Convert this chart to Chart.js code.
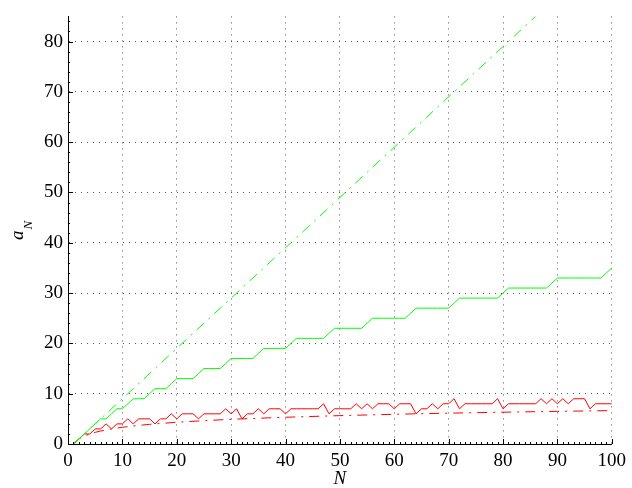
<!DOCTYPE html>
<html>
<head>
<meta charset="utf-8">
<script src="https://cdn.jsdelivr.net/npm/chart.js@4/dist/chart.umd.min.js"></script>
<style>
  html, body { margin: 0; padding: 0; background: #fff; }
  canvas { display: block; }
</style>
</head>
<body>
<canvas id="chart" width="632" height="488"></canvas>
<script>
// Sequence index N
const nValues = [
  1, 2, 3, 4, 5, 6, 7, 8, 9, 10,
  11, 12, 13, 14, 15, 16, 17, 18, 19, 20,
  21, 22, 23, 24, 25, 26, 27, 28, 29, 30,
  31, 32, 33, 34, 35, 36, 37, 38, 39, 40,
  41, 42, 43, 44, 45, 46, 47, 48, 49, 50,
  51, 52, 53, 54, 55, 56, 57, 58, 59, 60,
  61, 62, 63, 64, 65, 66, 67, 68, 69, 70,
  71, 72, 73, 74, 75, 76, 77, 78, 79, 80,
  81, 82, 83, 84, 85, 86, 87, 88, 89, 90,
  91, 92, 93, 94, 95, 96, 97, 98, 99, 100
];

// Upper staircase (green, solid)
const greenSteps = [
  0, 1, 2, 3, 4, 5, 5, 6, 7, 7,
  8, 9, 9, 9, 10, 11, 11, 11, 12, 13,
  13, 13, 13, 14, 15, 15, 15, 15, 16, 17,
  17, 17, 17, 17, 18, 19, 19, 19, 19, 19,
  20, 21, 21, 21, 21, 21, 21, 22, 23, 23,
  23, 23, 23, 23, 24, 25, 25, 25, 25, 25,
  25, 25, 26, 27, 27, 27, 27, 27, 27, 27,
  28, 29, 29, 29, 29, 29, 29, 29, 29, 30,
  31, 31, 31, 31, 31, 31, 31, 31, 32, 33,
  33, 33, 33, 33, 33, 33, 33, 33, 34, 35
];

// Lower jagged sequence (red, solid)
const redSteps = [
  0, 1, 2, 2, 3, 3, 4, 3, 4, 4,
  5, 4, 5, 5, 5, 4, 5, 5, 6, 5,
  6, 6, 6, 5, 6, 6, 6, 6, 7, 6,
  7, 5, 6, 6, 7, 6, 7, 7, 7, 6,
  7, 7, 7, 7, 7, 7, 8, 6, 7, 7,
  7, 7, 8, 7, 8, 7, 8, 8, 8, 7,
  8, 8, 8, 6, 7, 7, 8, 7, 8, 8,
  9, 7, 8, 8, 8, 8, 8, 8, 9, 7,
  8, 8, 8, 8, 8, 8, 9, 8, 9, 8,
  9, 8, 9, 9, 9, 7, 8, 8, 8, 8
];

// Reference curves (dash-dot)
const greenRefN = [1, 21, 41, 61, 81, 86];
const greenRefA = [0, 20, 40, 60, 80, 85];
const redRefN = [1, 2, 3, 4, 5, 6, 8, 10, 12, 15, 20, 25, 30, 40, 50, 60, 70, 80, 90, 100];
const redRefA = [0, 1, 1.58, 2, 2.32, 2.58, 3, 3.32, 3.58, 3.91, 4.32, 4.64, 4.91, 5.32, 5.64, 5.91, 6.13, 6.32, 6.49, 6.64];

// Axis tick labels
const xTicks = [0, 10, 20, 30, 40, 50, 60, 70, 80, 90, 100];
const yTicks = [0, 10, 20, 30, 40, 50, 60, 70, 80];

const GREEN = '#00ff00';
const RED = '#ff0000';
const SERIF = '"Liberation Serif", "Times New Roman", serif';
const DASH_DOT = [10, 6, 2, 6];

const pairs = (xs, ys) => xs.map((x, i) => ({ x: x, y: ys[i] }));

// Inward major/minor tick marks plus the axis titles (a_N uses a subscript)
const axisDecor = {
  id: 'axisDecor',
  afterDraw(chart) {
    const { ctx, chartArea: area, scales: { x, y } } = chart;
    ctx.save();
    ctx.strokeStyle = '#000';
    ctx.lineWidth = 1;
    ctx.beginPath();
    for (let v = x.min; v <= x.max; v += 1) {
      const px = Math.round(x.getPixelForValue(v)) + 0.5;
      const len = (v % 10 === 0) ? 5 : 2;
      ctx.moveTo(px, area.bottom);
      ctx.lineTo(px, area.bottom - len);
    }
    for (let v = y.min; v <= y.max; v += 2) {
      const py = Math.round(y.getPixelForValue(v)) + 0.5;
      const len = (v % 10 === 0) ? 5 : 2;
      ctx.moveTo(area.left, py);
      ctx.lineTo(area.left + len, py);
    }
    ctx.stroke();

    ctx.fillStyle = '#000';
    ctx.textBaseline = 'alphabetic';
    // x title
    ctx.font = 'italic 19px ' + SERIF;
    ctx.textAlign = 'center';
    ctx.fillText('N', (area.left + area.right) / 2, 484);
    // y title, rotated
    ctx.translate(23, 240);
    ctx.rotate(-Math.PI / 2);
    ctx.textAlign = 'left';
    ctx.font = 'italic 19px ' + SERIF;
    ctx.fillText('a', 0, 0);
    const w = ctx.measureText('a').width;
    ctx.font = 'italic 13px ' + SERIF;
    ctx.fillText('N', w + 1, 9);
    ctx.restore();
  }
};

new Chart(document.getElementById('chart'), {
  type: 'line',
  data: {
    datasets: [
      {
        data: pairs(greenRefN, greenRefA),
        borderColor: GREEN, borderWidth: 1, borderDash: DASH_DOT,
        pointRadius: 0, tension: 0
      },
      {
        data: pairs(nValues, greenSteps),
        borderColor: GREEN, borderWidth: 1,
        pointRadius: 0, tension: 0
      },
      {
        data: pairs(nValues, redSteps),
        borderColor: RED, borderWidth: 1,
        pointRadius: 0, tension: 0
      },
      {
        data: pairs(redRefN, redRefA),
        borderColor: RED, borderWidth: 1, borderDash: DASH_DOT,
        pointRadius: 0, tension: 0
      }
    ]
  },
  options: {
    responsive: false,
    animation: false,
    devicePixelRatio: 1,
    layout: { padding: { left: 0, right: 15, top: 12, bottom: 0 } },
    plugins: { legend: { display: false }, tooltip: { enabled: false } },
    scales: {
      x: {
        type: 'linear', min: 0, max: 100,
        afterBuildTicks: (s) => { s.ticks = xTicks.map(v => ({ value: v })); },
        afterFit: (s) => { s.height = 44; },
        ticks: {
          color: '#000', padding: 6, maxRotation: 0, autoSkip: false,
          font: { family: SERIF, size: 19 }
        },
        grid: { color: '#555', lineWidth: 1, drawTicks: false },
        border: { display: true, color: '#000', width: 1, dash: [1, 5] }
      },
      y: {
        type: 'linear', min: 0, max: 85,
        afterBuildTicks: (s) => { s.ticks = yTicks.map(v => ({ value: v })); },
        afterFit: (s) => { s.width = 68; },
        ticks: {
          color: '#000', padding: 5, autoSkip: false,
          font: { family: SERIF, size: 19 }
        },
        grid: { color: '#555', lineWidth: 1, drawTicks: false },
        border: { display: true, color: '#000', width: 1, dash: [1, 5] }
      }
    }
  },
  plugins: [axisDecor]
});
</script>
</body>
</html>
